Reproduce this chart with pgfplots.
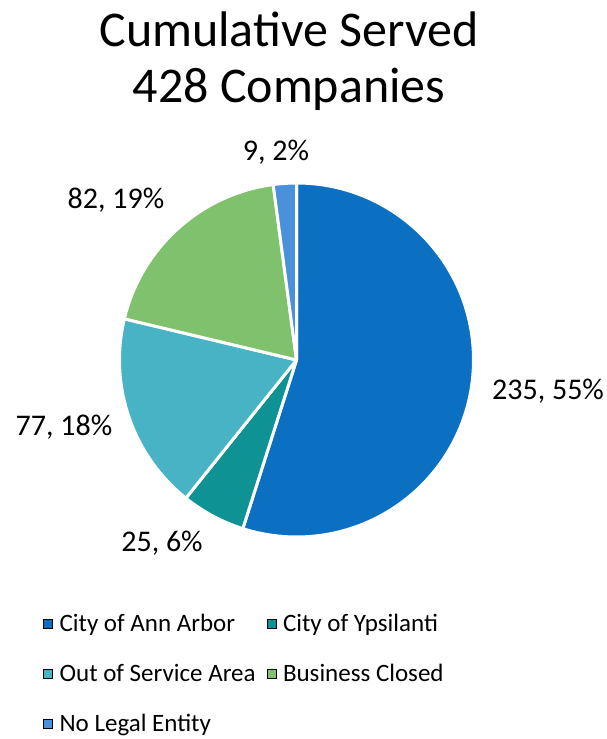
\documentclass[border=0pt]{standalone}
\usepackage{pgfplots}
\pgfplotsset{compat=1.18}
\usepackage{pgfplotstable}
\usepackage{fontspec}
\setmainfont{Carlito}

\definecolor{cAnn}{HTML}{0B70C1}
\definecolor{cYps}{HTML}{0E9293}
\definecolor{cOut}{HTML}{48B3C4}
\definecolor{cBus}{HTML}{7FC16C}
\definecolor{cNo}{HTML}{4B90DA}

\pgfplotstableread{
val color
235 cAnn
25  cYps
77  cOut
82  cBus
9   cNo
}\piedata

\pgfplotsset{sqleg/.style={legend image code/.code={\fill[##1] (0pt,-2.5pt) rectangle (9pt,6.5pt);}}}

\begin{document}
\begin{tikzpicture}
\def\total{0}
\pgfplotsforeachungrouped \i in {0,...,4}{%
  \pgfplotstablegetelem{\i}{val}\of\piedata
  \pgfmathsetmacro\total{\total+\pgfplotsretval}%
}
\def\cumval{0}
\pgfplotsforeachungrouped \i in {0,...,4}{%
  \pgfplotstablegetelem{\i}{val}\of\piedata
  \let\pieval\pgfplotsretval
  \pgfmathsetmacro\s{90-360*(\cumval/\total)}%
  \pgfmathsetmacro\cumval{\cumval+\pieval}%
  \pgfmathsetmacro\e{90-360*(\cumval/\total)}%
  \pgfplotstablegetelem{\i}{color}\of\piedata
  \expandafter\xdef\csname pieS\i\endcsname{\s}%
  \expandafter\xdef\csname pieE\i\endcsname{\e}%
  \expandafter\xdef\csname pieC\i\endcsname{\pgfplotsretval}%
}
\begin{axis}[
  hide axis, scale only axis, width=606pt, height=739pt,
  xmin=0, xmax=606, ymin=0, ymax=739, clip=false,
  legend columns=2,
  legend style={at={(43/606,129/739)}, anchor=north west, draw=none, fill=none,
    font=\fontsize{25}{30}\selectfont, legend cell align=left,
    row sep=20pt, inner sep=0pt,
    nodes={text height=18pt, text depth=6pt, inner sep=3pt},
    /tikz/every odd column/.append style={column sep=4pt},
    /tikz/every even column/.append style={column sep=8pt}},
]
\pgfplotsinvokeforeach{0,...,4}{%
  \edef\tmp{\noexpand\path[fill=\csname pieC#1\endcsname, draw=white, line width=3pt, line join=round]
    (axis cs:296.5,379) -- ++(\csname pieS#1\endcsname:177pt)
    arc[start angle=\csname pieS#1\endcsname, end angle=\csname pieE#1\endcsname, radius=177pt] -- cycle;}%
  \tmp
}
\addlegendimage{sqleg, fill=cAnn}
\addlegendentry{City of Ann Arbor}
\addlegendimage{sqleg, fill=cYps}
\addlegendentry{City of Ypsilanti}
\addlegendimage{sqleg, fill=cOut}
\addlegendentry{Out of Service Area}
\addlegendimage{sqleg, fill=cBus}
\addlegendentry{Business Closed}
\addlegendimage{sqleg, fill=cNo}
\addlegendentry{No Legal Entity}

\node[font=\fontsize{50}{58}\selectfont, anchor=base] at (axis cs:289,692) {Cumulative Served};
\node[font=\fontsize{50}{58}\selectfont, anchor=base] at (axis cs:289,636) {428 Companies};
\node[font=\fontsize{30}{36}\selectfont] at (axis cs:276,587) {9, 2\%};
\node[font=\fontsize{30}{36}\selectfont] at (axis cs:116,539) {82, 19\%};
\node[font=\fontsize{30}{36}\selectfont] at (axis cs:548,348) {235, 55\%};
\node[font=\fontsize{30}{36}\selectfont] at (axis cs:64,312) {77, 18\%};
\node[font=\fontsize{30}{36}\selectfont] at (axis cs:162,196) {25, 6\%};
\end{axis}
\pgfresetboundingbox
\path (current axis.south west) rectangle (current axis.north east);
\end{tikzpicture}
\end{document}
